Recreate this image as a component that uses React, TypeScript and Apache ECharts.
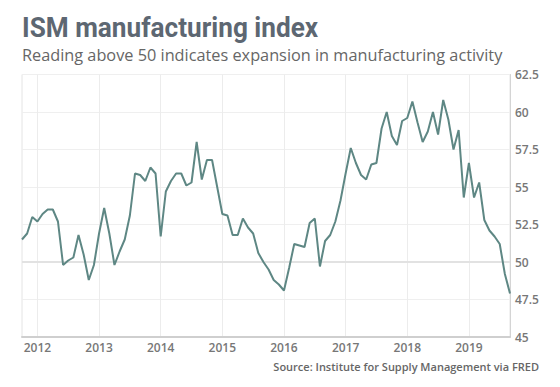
import React, { useEffect, useRef } from "react";
import * as echarts from "echarts";

// ISM manufacturing PMI, monthly, Oct 2011 – Sep 2019
const values2011 = [51.5, 51.9, 53.0]; // Oct–Dec
const values2012 = [52.7, 53.2, 53.5, 53.5, 52.7, 49.8, 50.1, 50.3, 51.8, 50.5, 48.8, 49.8];
const values2013 = [51.9, 53.6, 51.9, 49.8, 50.7, 51.5, 53.1, 55.9, 55.8, 55.4, 56.3, 55.9];
const values2014 = [51.7, 54.7, 55.4, 55.9, 55.9, 55.1, 55.3, 58.0, 55.5, 56.8, 56.8, 55.0];
const values2015 = [53.2, 53.1, 51.8, 51.8, 52.9, 52.3, 51.9, 50.6, 50.0, 49.5, 48.8, 48.5];
const values2016 = [48.1, 49.6, 51.2, 51.1, 51.0, 52.6, 52.9, 49.7, 51.4, 51.8, 52.7, 54.1];
const values2017 = [55.9, 57.6, 56.6, 55.8, 55.5, 56.5, 56.6, 58.9, 60.0, 58.4, 57.8, 59.4];
const values2018 = [59.6, 60.7, 59.3, 58.0, 58.7, 60.0, 58.5, 60.8, 59.5, 57.5, 58.8, 54.3];
const values2019 = [56.6, 54.3, 55.3, 52.8, 52.1, 51.7, 51.2, 49.2, 47.9]; // Jan–Sep

const START_YEAR = 2011;
const START_MONTH = 10;

const seriesValues = [
  ...values2011,
  ...values2012,
  ...values2013,
  ...values2014,
  ...values2015,
  ...values2016,
  ...values2017,
  ...values2018,
  ...values2019,
];

const months: string[] = seriesValues.map((_, i) => {
  const m0 = START_MONTH - 1 + i;
  const y = START_YEAR + Math.floor(m0 / 12);
  const m = (m0 % 12) + 1;
  return `${y}-${m < 10 ? "0" + m : m}`;
});

const TITLE = "ISM manufacturing index";
const SUBTITLE = "Reading above 50 indicates expansion in manufacturing activity";
const SOURCE = "Source: Institute for Supply Management via FRED";
const Y_MIN = 45;
const Y_MAX = 62.5;
const Y_STEP = 2.5;
const REFERENCE_LEVEL = 50;

const isJanuary = (_idx: number, val: string) => val.endsWith("-01");

export default function App() {
  const ref = useRef<HTMLDivElement>(null);

  useEffect(() => {
    if (!ref.current) return;
    const chart = echarts.init(ref.current, undefined, { renderer: "svg" });
    chart.setOption({
      animation: false,
      backgroundColor: "#ffffff",
      grid: {
        left: 22,
        right: 50,
        top: 74.5,
        bottom: 50,
        show: true,
        borderColor: "#e4e4e4",
        borderWidth: 1,
      },
      graphic: [
        {
          type: "text",
          x: 22,
          y: 27.5,
          scaleX: 0.97,
          style: {
            text: TITLE,
            font: "bold 27px Roboto",
            fill: "#5d6772",
            verticalAlign: "middle",
            align: "left",
          },
        },
        {
          type: "text",
          x: 22,
          y: 55,
          style: {
            text: SUBTITLE,
            font: "16.3px 'Open Sans'",
            fill: "#666666",
            verticalAlign: "middle",
            align: "left",
          },
        },
        {
          type: "text",
          x: 539,
          y: 366,
          style: {
            text: SOURCE,
            font: "600 11px 'Open Sans'",
            fill: "#666666",
            verticalAlign: "middle",
            align: "right",
          },
        },
      ],
      xAxis: {
        type: "category",
        data: months,
        boundaryGap: false,
        axisLine: { show: true, lineStyle: { color: "#cfcfcf", width: 2 } },
        axisTick: { show: false },
        axisLabel: {
          interval: isJanuary,
          formatter: (v: string) => v.slice(0, 4),
          color: "#777777",
          fontFamily: "Open Sans",
          fontWeight: 600,
          fontSize: 12,
          margin: 4,
        },
        splitLine: {
          show: true,
          interval: isJanuary,
          lineStyle: { color: "#ececec", width: 1 },
        },
      },
      yAxis: {
        type: "value",
        position: "right",
        min: Y_MIN,
        max: Y_MAX,
        interval: Y_STEP,
        axisLine: { show: true, lineStyle: { color: "#d4d4d4", width: 1 } },
        axisTick: { show: false },
        axisLabel: {
          color: "#777777",
          fontFamily: "Open Sans",
          fontWeight: 600,
          fontSize: 12,
          margin: 5,
        },
        splitLine: { show: true, lineStyle: { color: "#efefef", width: 1 } },
      },
      series: [
        {
          type: "line",
          data: seriesValues,
          symbol: "none",
          lineStyle: { color: "#5e8784", width: 2 },
          markLine: {
            silent: true,
            symbol: "none",
            label: { show: false },
            lineStyle: { color: "#e2e2e2", width: 2, type: "solid" },
            data: [{ yAxis: REFERENCE_LEVEL }],
            z: 1,
          },
          z: 3,
        },
      ],
    });
    return () => chart.dispose();
  }, []);

  return (
    <div
      ref={ref}
      style={{ position: "fixed", left: 0, top: 0, width: 560, height: 387 }}
    />
  );
}
